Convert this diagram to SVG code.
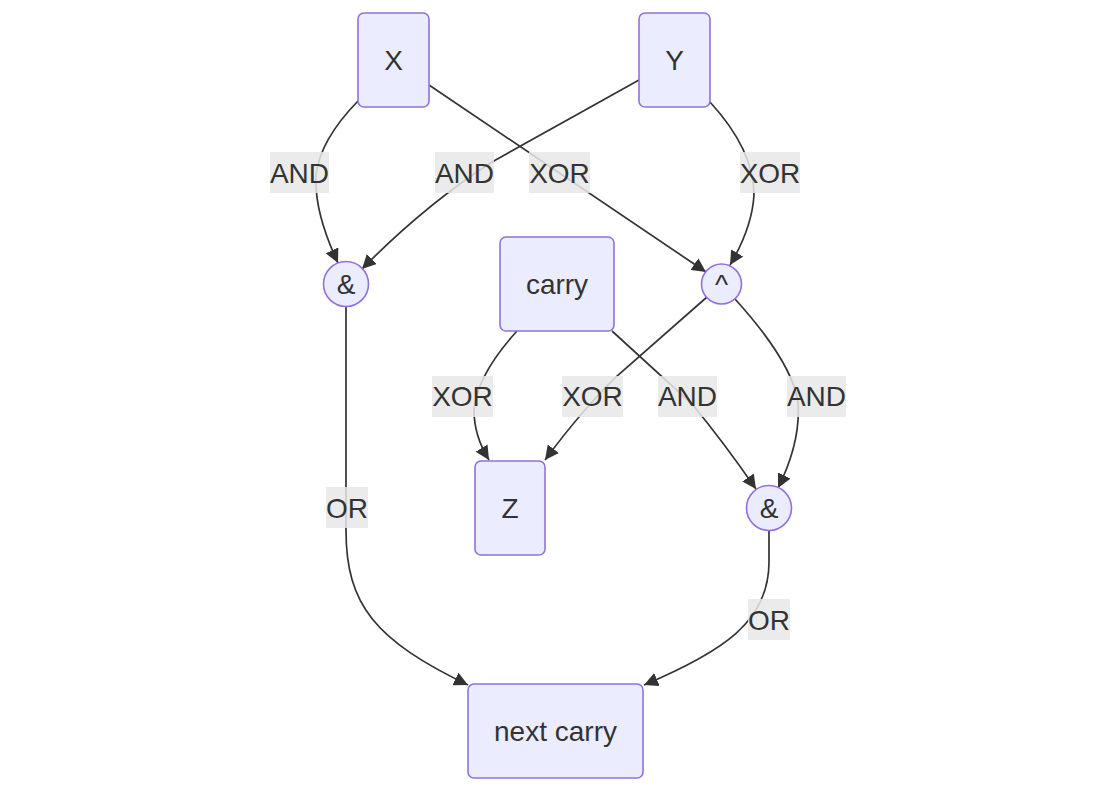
<svg xmlns="http://www.w3.org/2000/svg" width="1116" height="793" viewBox="0 0 1116 793">
<style>
.node rect,.node circle{fill:#ECECFF;stroke:#9370DB;stroke-width:1.6}
text{font-family:"Liberation Sans",Arial,sans-serif;font-size:28px;fill:#333;text-anchor:middle;dominant-baseline:central}
.edge{fill:none;stroke:#333;stroke-width:1.7}
.lbl rect{fill:#e8e8e8;fill-opacity:0.85}
</style>
<defs>
<marker id="arr" viewBox="0 0 10 10" refX="10" refY="5" markerWidth="14" markerHeight="14" markerUnits="userSpaceOnUse" orient="auto">
<path d="M0,0 L10,5 L0,10 z" fill="#333"/>
</marker>
</defs>
<rect width="1116" height="793" fill="#fff"/>
<g id="connectors">
<path class="edge" marker-end="url(#arr)" d="M358,101 Q320,140 316,175 Q314,212 338,263"/>
<path class="edge" marker-end="url(#arr)" d="M639,80 L492,162 Q425,205 362,269"/>
<path class="edge" marker-end="url(#arr)" d="M429,85 L706,272"/>
<path class="edge" marker-end="url(#arr)" d="M710,102 Q754,150 754,195 Q752,228 730,265"/>
<path class="edge" marker-end="url(#arr)" d="M517,331 Q477,375 474,410 Q474,436 489,460"/>
<path class="edge" marker-end="url(#arr)" d="M707,297 L617,376 Q582,410 545,460"/>
<path class="edge" marker-end="url(#arr)" d="M612,331 L692,404 Q722,440 756,489"/>
<path class="edge" marker-end="url(#arr)" d="M735,299 Q792,362 798,402 Q801,442 778,488"/>
<path class="edge" marker-end="url(#arr)" d="M346,306 L346,530 C346,605 375,640 468,685"/>
<path class="edge" marker-end="url(#arr)" d="M769,530 L769,562 C769,622 722,652 644,685"/>
<g class="lbl"><rect x="270" y="152" width="59" height="41"/><text x="299.5" y="173">AND</text></g>
<g class="lbl"><rect x="435" y="152" width="59" height="41"/><text x="464.5" y="173">AND</text></g>
<g class="lbl"><rect x="529" y="152" width="61" height="41"/><text x="559.5" y="173">XOR</text></g>
<g class="lbl"><rect x="740" y="152" width="60" height="41"/><text x="770" y="173">XOR</text></g>
<g class="lbl"><rect x="432" y="376" width="61" height="41"/><text x="462.5" y="396.5">XOR</text></g>
<g class="lbl"><rect x="562" y="376" width="61" height="41"/><text x="592.5" y="396.5">XOR</text></g>
<g class="lbl"><rect x="658" y="376" width="59" height="41"/><text x="687.5" y="396.5">AND</text></g>
<g class="lbl"><rect x="787" y="376" width="59" height="41"/><text x="816.5" y="396.5">AND</text></g>
<g class="lbl"><rect x="326" y="487" width="42" height="41"/><text x="347" y="508">OR</text></g>
<g class="lbl"><rect x="748" y="599" width="42" height="41"/><text x="769" y="620">OR</text></g>
</g>
<g id="X" class="node"><rect x="358" y="13" width="71" height="94" rx="6"/><text x="393.5" y="60">X</text></g>
<g id="Y" class="node"><rect x="639" y="13" width="71" height="94" rx="6"/><text x="674.5" y="60">Y</text></g>
<g id="and1" class="node"><circle cx="346" cy="284" r="22.5"/><text x="346" y="284">&amp;</text></g>
<g id="carry" class="node"><rect x="500" y="237" width="114" height="94" rx="6"/><text x="557" y="284">carry</text></g>
<g id="xor1" class="node"><circle cx="721.5" cy="284" r="20"/><text x="721.5" y="284">^</text></g>
<g id="Z" class="node"><rect x="475" y="461" width="70" height="94" rx="6"/><text x="510" y="508">Z</text></g>
<g id="and2" class="node"><circle cx="769" cy="508" r="22.5"/><text x="769" y="508">&amp;</text></g>
<g id="nextcarry" class="node"><rect x="468" y="684" width="175" height="94" rx="6"/><text x="555.5" y="731">next carry</text></g>
</svg>
